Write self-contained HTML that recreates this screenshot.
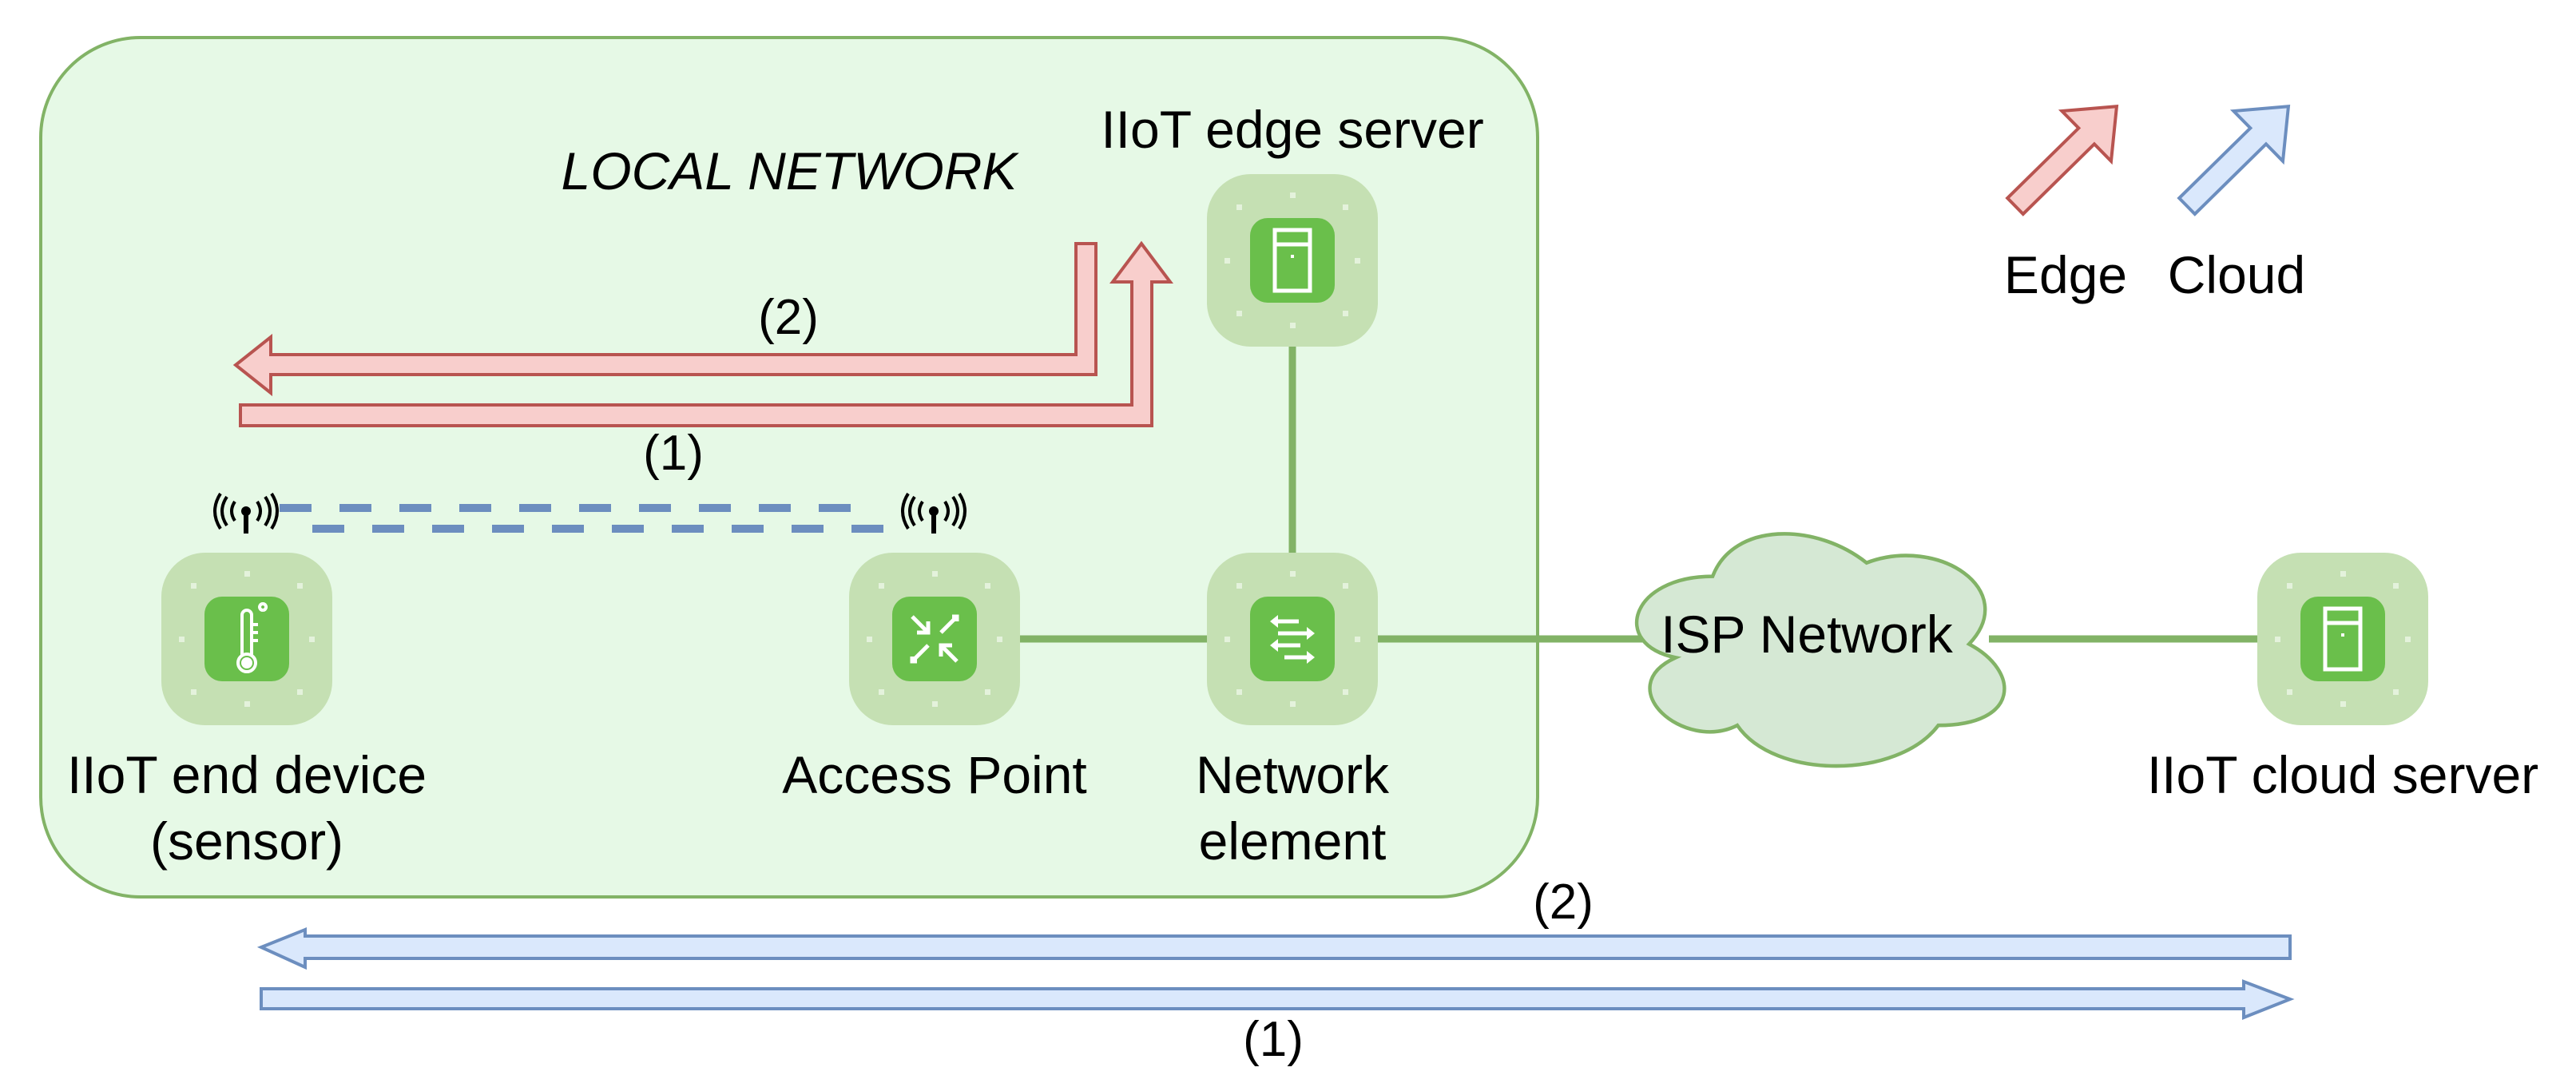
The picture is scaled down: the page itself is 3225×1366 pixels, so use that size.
<!DOCTYPE html>
<html><head><meta charset="utf-8"><style>
html,body{margin:0;padding:0;background:#fff;}
svg{display:block;}
text{font-family:"Liberation Sans",Arial,sans-serif;fill:#000;}
</style></head><body>
<svg width="3225" height="1366" viewBox="0 0 3225 1366" xmlns="http://www.w3.org/2000/svg">
<defs>
<g id="node">
 <rect x="-107" y="-108" width="214" height="216" rx="55" fill="#c5e0b3"/>
 <g fill="#e4f2dc">
  <rect x="-3" y="-85" width="7" height="7"/><rect x="-3" y="78" width="7" height="7"/>
  <rect x="-85" y="-3" width="7" height="7"/><rect x="78" y="-3" width="7" height="7"/>
  <rect x="-70" y="-70" width="7" height="7"/><rect x="63" y="-70" width="7" height="7"/>
  <rect x="-70" y="63" width="7" height="7"/><rect x="63" y="63" width="7" height="7"/>
 </g>
 <rect x="-53" y="-53" width="106" height="106" rx="22" fill="#6abf4b"/>
</g>
<g id="srv">
 <rect x="-22" y="-38" width="44" height="76" fill="none" stroke="#fff" stroke-width="5"/>
 <line x1="-22" y1="-20" x2="22" y2="-20" stroke="#fff" stroke-width="5"/>
 <rect x="-2" y="-7" width="4" height="4" fill="#fff"/>
</g>
<g id="wifi" fill="none" stroke="#000" stroke-width="4">
 <circle cx="0" cy="-6" r="6" fill="#000" stroke="none"/>
 <line x1="0" y1="-4" x2="0" y2="22" stroke-width="6"/>
 <path d="M-14,-18 Q-22,-6 -14,6"/><path d="M14,-18 Q22,-6 14,6"/>
 <path d="M-24,-24 Q-36,-6 -24,12"/><path d="M24,-24 Q36,-6 24,12"/>
 <path d="M-32,-28 Q-46,-6 -32,16"/><path d="M32,-28 Q46,-6 32,16"/>
</g>
</defs>

<rect x="51" y="47" width="1874" height="1076" rx="125" fill="#e6f9e6" stroke="#82b366" stroke-width="4"/>

<text x="988" y="237" font-size="66" font-style="italic" text-anchor="middle">LOCAL NETWORK</text>
<text x="1618" y="185" font-size="66" text-anchor="middle">IIoT edge server</text>

<g stroke="#82b366" stroke-width="9" fill="none">
 <line x1="1618" y1="430" x2="1618" y2="695"/>
 <line x1="1170" y1="800" x2="1618" y2="800"/>
 <line x1="1725" y1="800" x2="2060" y2="800"/>
 <line x1="2490" y1="800" x2="2830" y2="800"/>
</g>

<path transform="translate(2272,807) scale(1.1,1.15) translate(-2272,-807)" d="M2155.75,732.75 C2062.35,732.75 2039,806.5 2113.7,821.25 C2039,853.7 2123,924.5 2183.8,895 C2225.8,954 2365.9,954 2412.6,895 C2506,895 2506,836 2447.6,806.5 C2506,747.5 2412.6,688.5 2330.9,718 C2272.5,673.75 2179.1,673.75 2155.75,732.75 Z" fill="#d5e8d4" stroke="#82b366" stroke-width="4"/>
<text x="2262" y="817" font-size="66" text-anchor="middle">ISP Network</text>

<g transform="translate(1618,326)"><use href="#node"/><use href="#srv"/></g>
<g transform="translate(1618,800)"><use href="#node"/>
 <g stroke="#fff" stroke-width="5" fill="#fff">
  <line x1="-20" y1="-22" x2="8" y2="-22"/><path d="M-28,-22 L-18,-30 L-18,-14Z" stroke="none"/>
  <line x1="-18" y1="-7" x2="20" y2="-7"/><path d="M28,-7 L18,-15 L18,1Z" stroke="none"/>
  <line x1="-20" y1="8" x2="10" y2="8"/><path d="M-28,8 L-18,0 L-18,16Z" stroke="none"/>
  <line x1="-10" y1="23" x2="20" y2="23"/><path d="M28,23 L18,15 L18,31Z" stroke="none"/>
 </g>
</g>
<g transform="translate(2933,800)"><use href="#node"/><use href="#srv"/></g>
<g transform="translate(1170,800)"><use href="#node"/>
 <g stroke="#fff" stroke-width="5" fill="none">
  <path d="M-28,-28 L-8,-8 M-8,-22 L-8,-8 L-22,-8"/>
  <path d="M28,-28 L8,-8 M22,-28 L28,-28 L28,-22"/>
  <path d="M-28,28 L-8,8 M-28,22 L-28,28 L-22,28"/>
  <path d="M28,28 L8,8 M8,22 L8,8 L22,8"/>
 </g>
</g>
<g transform="translate(309,800)"><use href="#node"/>
 <g stroke="#fff" stroke-width="4" fill="none">
  <path d="M-6,22 L-6,-30 A6,6 0 0 1 6,-30 L6,22"/>
  <circle cx="0" cy="30" r="11"/>
  <line x1="8" y1="-18" x2="14" y2="-18"/><line x1="8" y1="-8" x2="14" y2="-8"/><line x1="8" y1="2" x2="14" y2="2"/>
  <path d="M20,-36 a4,4 0 1 1 0.1,0"/>
 </g>
 <circle cx="0" cy="30" r="7" fill="#fff"/>
</g>

<g font-size="66" text-anchor="middle">
 <text x="309" y="993">IIoT end device</text>
 <text x="309" y="1076">(sensor)</text>
 <text x="1170" y="993">Access Point</text>
 <text x="1618" y="993">Network</text>
 <text x="1618" y="1076">element</text>
 <text x="2933" y="993">IIoT cloud server</text>
</g>

<line x1="350" y1="636" x2="1090" y2="636" stroke="#6c8ebf" stroke-width="10" stroke-dasharray="40 35"/>
<line x1="391" y1="662" x2="1128" y2="662" stroke="#6c8ebf" stroke-width="10" stroke-dasharray="40 35"/>
<g transform="translate(308,646)"><use href="#wifi"/></g>
<g transform="translate(1169,646)"><use href="#wifi"/></g>

<polygon points="1347,305 1372,305 1372,469 339,469 339,492 295,457 339,422 339,444 1347,444" fill="#f8cecc" stroke="#b85450" stroke-width="4"/>
<polygon points="301,507 1417,507 1417,353 1393,353 1429,305 1465,353 1442,353 1442,533 301,533" fill="#f8cecc" stroke="#b85450" stroke-width="4"/>
<text x="987" y="418" font-size="62" text-anchor="middle">(2)</text>
<text x="843" y="588" font-size="62" text-anchor="middle">(1)</text>

<polygon points="2867,1172 2867,1200 382,1200 382,1211 327,1186 382,1164 382,1172" fill="#dae8fc" stroke="#6c8ebf" stroke-width="4"/>
<polygon points="327,1238 2809,1238 2809,1229 2867,1251 2809,1274 2809,1263 327,1263" fill="#dae8fc" stroke="#6c8ebf" stroke-width="4"/>
<text x="1957" y="1150" font-size="62" text-anchor="middle">(2)</text>
<text x="1594" y="1322" font-size="62" text-anchor="middle">(1)</text>

<g transform="translate(2523,258) rotate(-44.5)">
 <polygon points="0,-14 125,-14 125,-44 178,0 125,44 125,14 0,14" fill="#f8cecc" stroke="#b85450" stroke-width="4"/>
</g>
<g transform="translate(2738,258) rotate(-44.5)">
 <polygon points="0,-14 125,-14 125,-44 178,0 125,44 125,14 0,14" fill="#dae8fc" stroke="#6c8ebf" stroke-width="4"/>
</g>
<text x="2586" y="367" font-size="66" text-anchor="middle">Edge</text>
<text x="2800" y="367" font-size="66" text-anchor="middle">Cloud</text>
</svg>
</body></html>
